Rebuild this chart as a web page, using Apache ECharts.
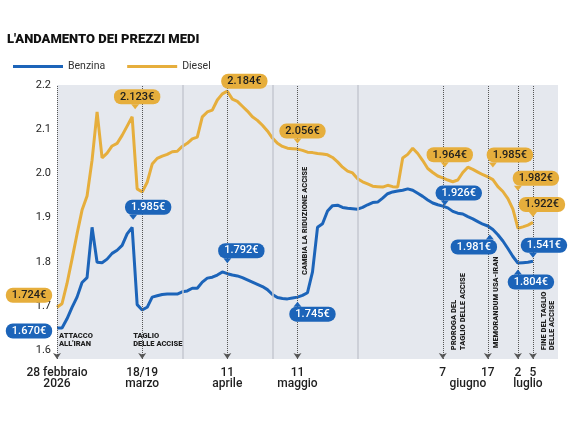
<!DOCTYPE html>
<html>
<head>
<meta charset="utf-8">
<script src="https://cdn.jsdelivr.net/npm/echarts@6/dist/echarts.min.js"></script>
<style>
  html, body { margin: 0; padding: 0; background: #fff; }
  #main { width: 572px; height: 429px; }
</style>
</head>
<body>
<div id="main"></div>
<script>
// prezzi medi (euro/litro), un punto ogni passo dell'asse
var benzina = [1.650,1.650,1.671,1.697,1.720,1.753,1.764,1.878,1.799,1.798,
  1.806,1.819,1.826,1.837,1.863,1.878,1.703,1.691,1.697,1.720,
  1.723,1.726,1.727,1.727,1.727,1.732,1.734,1.740,1.740,1.754,
  1.763,1.765,1.770,1.777,1.773,1.770,1.768,1.764,1.759,1.754,
  1.749,1.744,1.737,1.726,1.719,1.717,1.716,1.718,1.720,1.724,
  1.730,1.777,1.878,1.886,1.915,1.927,1.928,1.923,1.921,1.920,
  1.919,1.923,1.929,1.934,1.935,1.944,1.954,1.958,1.960,1.962,
  1.965,1.962,1.955,1.948,1.940,1.933,1.929,1.926,1.922,1.914,
  1.910,1.908,1.902,1.897,1.891,1.885,1.881,1.873,1.861,1.847,
  1.830,1.812,1.797,1.798,1.799,1.801];
var diesel = [1.697,1.705,1.751,1.806,1.863,1.917,1.949,2.030,2.139,2.035,
  2.046,2.062,2.068,2.086,2.107,2.128,1.965,1.958,1.980,2.021,
  2.034,2.039,2.043,2.049,2.050,2.061,2.068,2.078,2.082,2.128,
  2.139,2.143,2.166,2.180,2.186,2.168,2.163,2.152,2.141,2.128,
  2.120,2.109,2.096,2.080,2.068,2.061,2.057,2.056,2.055,2.052,
  2.048,2.047,2.045,2.044,2.042,2.036,2.026,2.014,2.005,2.001,
  1.988,1.981,1.976,1.971,1.970,1.969,1.973,1.970,1.969,2.035,
  2.043,2.057,2.045,2.029,2.011,2.002,1.994,1.990,1.985,1.981,
  1.985,2.002,2.014,2.009,2.003,1.997,1.992,1.986,1.970,1.959,
  1.943,1.919,1.876,1.879,1.883,1.889];

var nSteps = 101;
var categories = [];
for (var i = 0; i < nSteps; i++) categories.push(i);

var tickIdx = [0, 17, 34, 48, 77, 82, 86, 92, 94, 95];
var tickText = ['28 febbraio\n2026', '18/19\nmarzo', '11\naprile', '11\nmaggio',
  '7', '\ngiugno', '17', '2', '\nluglio', '5'];
var yTicks = [1.6, 1.7, 1.8, 1.9, 2.0, 2.1, 2.2];

var eventIdx = [0, 17, 34, 48, 77, 86, 92, 95];
var gridIdx = [25, 43, 60];

// etichette di prezzo
var benzinaCallIdx = [0, 15, 34, 48, 77, 86, 95, 92];
var benzinaCallText = ['1.670€', '1.985€', '1.792€', '1.745€', '1.926€', '1.981€', '1.541€', '1.804€'];
var dieselCallIdx = [0, 15, 34, 48, 77, 86, 92, 95];
var dieselCallText = ['1.724€', '2.123€', '2.184€', '2.056€', '1.964€', '1.985€', '1.982€', '1.922€'];

// note sugli eventi
var noteIdx = [0, 17, 48, 77, 86, 95];
var noteY = [1.6, 1.6, 1.77, 1.6, 1.6, 1.6];
var noteText = ['ATTACCO\nALL\'IRAN', 'TAGLIO\nDELLE ACCISE', 'CAMBIA LA RIDUZIONE ACCISE',
  'PROROGA DEL\nTAGLIO DELLE ACCISE', 'MEMORANDUM USA-IRAN', 'FINE DEL TAGLIO\nDELLE ACCISE'];

var BLUE = '#1c64b9', GOLD = '#e6ae3c', INK = '#1e1e1e';
var FONT = 'Roboto';

// layout delle etichette: [offset box], [offset punta]
var benzinaBox = [[-28, 3], [16, -20], [14, -23], [15, 17], [16, -13], [-14, 21], [11, -16], [13, 19]];
var benzinaTip = [null, [1, -10], [0, -13], [0, 7], [2, -3], [2, 11], [0, -6], [0, 9]];
var dieselBox = [[-28, -12], [5, -20], [17, -10], [5, -18], [7, -23], [22, -22], [18, -50], [9, -18]];
var dieselTip = [null, [3, -10], null, [0, -8], [2, -13], [5, -12], [0, -40], [0, -8]];
var noteLayout = [
  { off: [2, -10], rot: 0 }, { off: [-9, -10], rot: 0 }, { off: [8, 0], rot: 90 },
  { off: [16, 0], rot: 90 }, { off: [8, -2], rot: 90 }, { off: [15, 0], rot: 90 }
];

function callouts(idx, texts, values, box, tip, bg, fg) {
  var out = [];
  idx.forEach(function (k, n) {
    out.push({
      coord: [k, values[k]], symbol: 'rect', symbolSize: 1,
      itemStyle: { color: 'rgba(0,0,0,0)' },
      label: {
        show: true, formatter: texts[n], offset: box[n], position: 'inside',
        backgroundColor: bg, color: fg, borderRadius: 7, padding: [2, 6, 1, 6],
        fontSize: 11, fontFamily: FONT, fontWeight: 500, lineHeight: 12
      }
    });
    if (tip[n]) {
      out.push({
        coord: [k, values[k]], symbol: 'triangle', symbolSize: [8, 5],
        symbolRotate: tip[n][1] < 0 ? 180 : 0, symbolOffset: tip[n],
        itemStyle: { color: bg }, label: { show: false }
      });
    }
  });
  return out;
}

function notes() {
  return noteIdx.map(function (k, n) {
    var lay = noteLayout[n];
    return {
      coord: [k, noteY[n]], symbol: 'rect', symbolSize: 1,
      symbolOffset: lay.off, itemStyle: { color: 'rgba(0,0,0,0)' },
      label: {
        show: true, formatter: noteText[n], position: 'inside', rotate: lay.rot,
        align: 'left', verticalAlign: 'middle', color: INK,
        fontSize: 7.5, fontWeight: 900, fontFamily: FONT, lineHeight: 8.5
      }
    };
  });
}

var myChart = echarts.init(document.getElementById('main'));

var option = {
  backgroundColor: '#fff',
  animation: false,
  title: {
    text: 'L\'ANDAMENTO DEI PREZZI MEDI',
    left: 7, top: 33, padding: 0,
    textStyle: { fontSize: 13, fontWeight: 900, color: '#111', fontFamily: FONT }
  },
  legend: {
    left: 8, top: 56,
    icon: 'rect', itemWidth: 50, itemHeight: 3, itemGap: 22,
    textStyle: { fontSize: 10.5, color: '#333', fontFamily: FONT },
    data: ['Benzina', 'Diesel']
  },
  grid: {
    left: 57, right: 14, top: 85, bottom: 70,
    show: true, backgroundColor: '#e5e8ee', borderWidth: 0
  },
  xAxis: {
    type: 'category',
    boundaryGap: false,
    data: categories,
    axisLine: { show: false },
    axisTick: { show: false },
    splitLine: { show: false },
    axisLabel: {
      interval: 0, margin: 8,
      color: INK, fontSize: 12, fontWeight: 500, fontFamily: FONT, lineHeight: 11,
      formatter: function (v, i) {
        var p = tickIdx.indexOf(i);
        return p >= 0 ? tickText[p] : '';
      }
    }
  },
  yAxis: {
    type: 'value',
    min: 1.58, max: 2.2,
    axisLine: { show: false },
    axisTick: { show: false },
    splitLine: { show: false },
    axisLabel: {
      customValues: yTicks, margin: 6,
      color: INK, fontSize: 11, fontFamily: FONT,
      formatter: function (v) { return v.toFixed(1); }
    }
  },
  series: [{
    name: 'Diesel',
    type: 'line',
    data: diesel,
    symbol: 'none',
    lineStyle: { width: 3, color: GOLD },
    itemStyle: { color: GOLD },
    z: 3,
    markLine: {
      silent: true, symbol: 'none',
      lineStyle: { type: 'solid', color: '#c4c8d0', width: 1.5 },
      label: { show: false },
      data: gridIdx.map(function (k) { return { xAxis: k }; })
    },
    markPoint: {
      silent: true,
      data: callouts(dieselCallIdx, dieselCallText, diesel, dieselBox, dieselTip, GOLD, INK)
    }
  }, {
    name: 'Benzina',
    type: 'line',
    data: benzina,
    symbol: 'none',
    lineStyle: { width: 3, color: BLUE },
    itemStyle: { color: BLUE },
    z: 4,
    markLine: {
      silent: true, symbol: ['arrow', 'none'], symbolSize: 6,
      lineStyle: { type: 'dotted', color: '#555', width: 1 },
      label: { show: false },
      data: eventIdx.map(function (k) { return { xAxis: k }; })
    },
    markPoint: {
      silent: true,
      data: callouts(benzinaCallIdx, benzinaCallText, benzina, benzinaBox, benzinaTip, BLUE, '#fff')
        .concat(notes())
    }
  }]
};
myChart.setOption(option);
</script>
</body>
</html>
